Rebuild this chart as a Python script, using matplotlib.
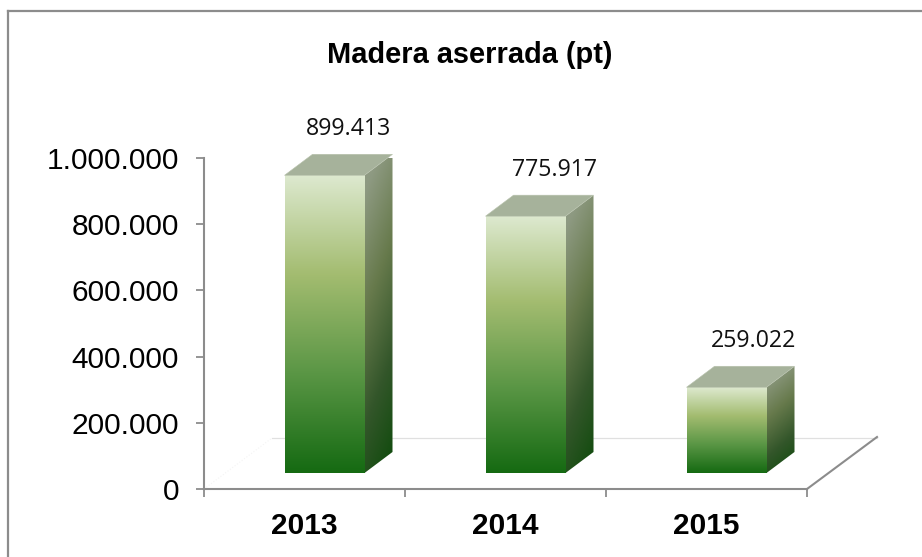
import numpy as np
import matplotlib
matplotlib.use('Agg')
import matplotlib.pyplot as plt
from matplotlib.colors import LinearSegmentedColormap
from matplotlib.lines import Line2D
from matplotlib.patches import Polygon

years = ['2013', '2014', '2015']
values = [899413, 775917, 259022]
value_labels = ['899.413', '775.917', '259.022']
y_ticks = [0, 200000, 400000, 600000, 800000, 1000000]
y_tick_labels = ['0', '200.000', '400.000', '600.000', '800.000', '1.000.000']

# pixel sizes of the fake 3d box, turned into data units below
px_x = 3/603
px_y = 1000000/331
bar_w = 80*px_x
shift = 20*px_x
base = 16*px_y
dx = 28*px_x
dy = 21*px_y
floor_dx = 70*px_x
floor_dy = 51*px_y
label_shift = [24, 29, 27]

front_cm = LinearSegmentedColormap.from_list('front', ['#dde9cf', '#a3bc70', '#5a9645', '#156a12'])
side_cm = LinearSegmentedColormap.from_list('side', ['#8e9a82', '#677a4c', '#33562a', '#0d4a0a'])

plt.rcParams['font.family'] = ['Liberation Sans', 'DejaVu Sans']
fig = plt.figure(figsize=(9.22, 5.57), dpi=100)
ax = fig.add_axes([204/922, 68/557, 603/922, 331/557])
ax.set_xlim(-0.5, 2.5)
ax.set_ylim(0, 1000000)

# chart frame, only top and left show up in the picture
fig.add_artist(Line2D([8/922, 1], [1-11/557, 1-11/557], transform=fig.transFigure, color='#8c8c8c', lw=1.6))
fig.add_artist(Line2D([8/922, 8/922], [0, 1-11/557], transform=fig.transFigure, color='#8c8c8c', lw=1.6))

# back wall line and floor edges
ax.plot([-0.5+68*px_x, 2.5+floor_dx], [floor_dy, floor_dy], color='#e0e0e0', lw=0.9, clip_on=False, zorder=1)
ax.plot([2.5, 2.5+floor_dx], [0, floor_dy+px_y], color='#8c8c8c', lw=1.5, clip_on=False, zorder=1)
ax.plot([-0.5, -0.5+68*px_x], [0, floor_dy], color='#f4f4f4', lw=0.8, ls=':', clip_on=False, zorder=1)

grad_v = np.linspace(0, 1, 256).reshape(-1, 1)
gx, gy = np.meshgrid(np.linspace(0, 1, 64), np.linspace(0, 1, 256))
grad_d = np.clip(0.9*gy + 0.2*gx - 0.1, 0, 1)

for i, v in enumerate(values):
    x0 = i + shift - bar_w/2
    x1 = x0 + bar_w
    y0 = base
    y1 = base + v
    # front face
    ax.imshow(grad_v, cmap=front_cm, aspect='auto', extent=(x0, x1, y0, y1),
              origin='upper', zorder=3, clip_on=False, vmin=0, vmax=1)
    # side face
    side = Polygon([(x1, y0), (x1+dx, y0+dy), (x1+dx, y1+dy), (x1, y1)], closed=True,
                   facecolor='none', edgecolor='none', transform=ax.transData)
    ax.add_patch(side)
    im = ax.imshow(grad_d, cmap=side_cm, aspect='auto', extent=(x1, x1+dx, y0, y1+dy),
                   origin='upper', zorder=3, vmin=0, vmax=1)
    im.set_clip_path(side)
    # top face
    ax.add_patch(Polygon([(x0, y1), (x1, y1), (x1+dx, y1+dy), (x0+dx, y1+dy)], closed=True,
                         facecolor='#a6b29b', edgecolor='#b8c2ad', lw=0.4, zorder=3, clip_on=False))
    ax.annotate(value_labels[i], xy=(i+shift, y1), xytext=(label_shift[i]*0.72, 33.2),
                textcoords='offset points', ha='center', va='center', fontsize=16.7,
                family=['Open Sans', 'DejaVu Sans'], color='#111111', zorder=5, annotation_clip=False)

ax.set_xlim(-0.5, 2.5)
ax.set_ylim(0, 1000000)

ax.set_yticks(y_ticks)
ax.set_yticklabels(y_tick_labels, fontsize=21.5, color='black')
ax.set_xticks([-0.5, 0.5, 1.5, 2.5])
ax.set_xticklabels([])
ax.set_xticks([0, 1, 2], minor=True)
ax.set_xticklabels(years, minor=True, fontsize=21.5, fontweight='bold')
ax.tick_params(axis='x', which='major', length=6, width=1.3, color='#8c8c8c', direction='out')
ax.tick_params(axis='x', which='minor', length=0, pad=16.5)
ax.tick_params(axis='y', length=6, width=1.3, color='#8c8c8c', direction='out', pad=12)
for s in ['top', 'right']:
    ax.spines[s].set_visible(False)
for s in ['left', 'bottom']:
    ax.spines[s].set_color('#8c8c8c')
    ax.spines[s].set_linewidth(1.5)
ax.patch.set_alpha(0)

fig.text(470/922, 1-55/557, 'Madera aserrada (pt)', ha='center', va='center', fontsize=20.9, fontweight='bold')

plt.savefig('out.png', dpi=100)
